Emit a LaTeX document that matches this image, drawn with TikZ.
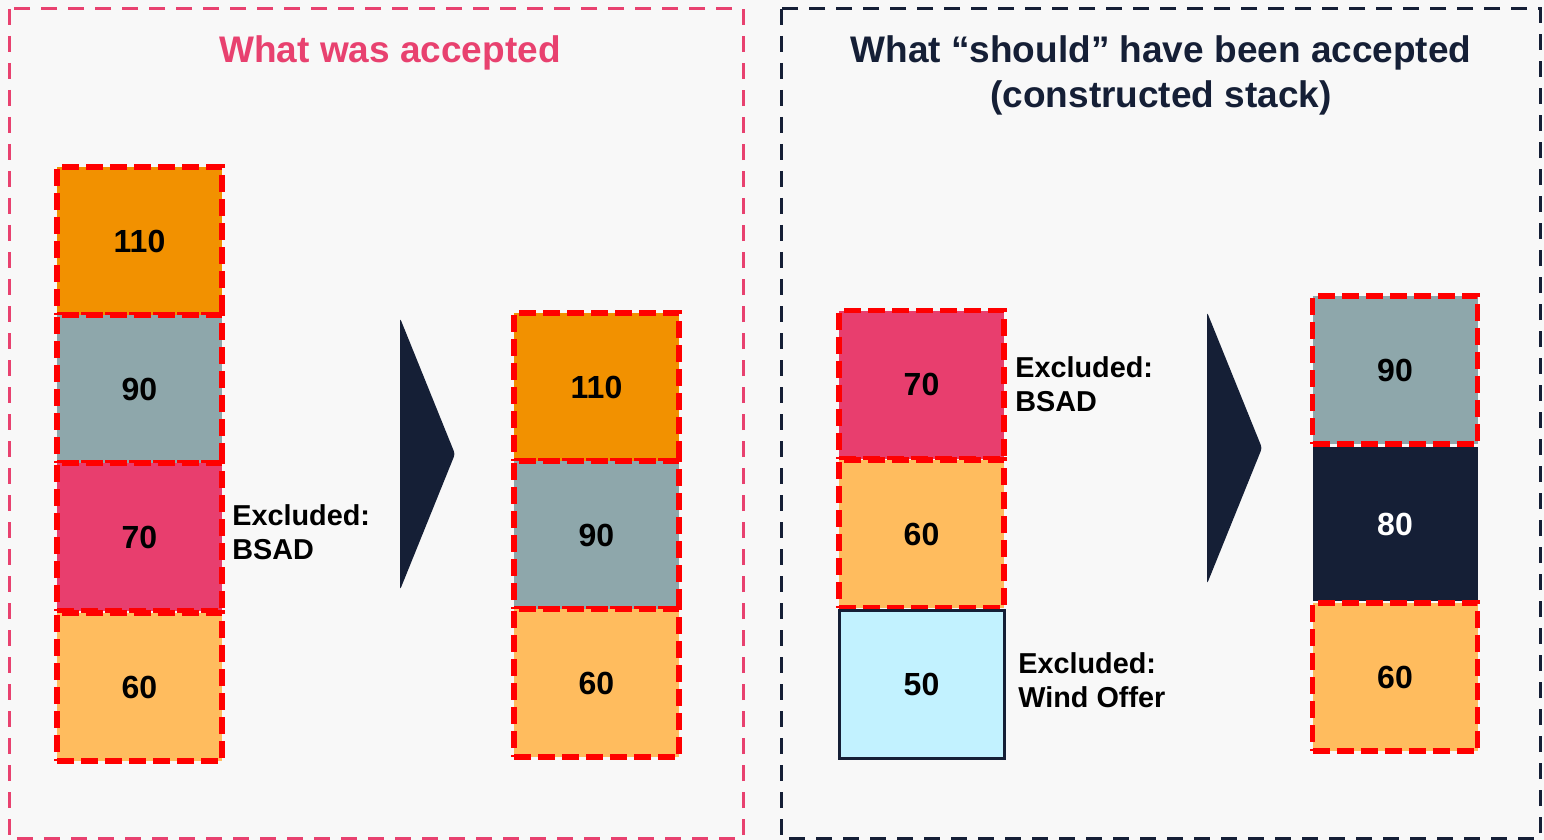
\documentclass[tikz,border=0pt]{standalone}
\usepackage{fontspec}
\setmainfont{Liberation Sans}
\usepackage{xcolor}
\usepackage{tikz}
\usetikzlibrary{positioning}
\definecolor{pagebg}{RGB}{248, 248, 248}
\definecolor{titlepink}{RGB}{232, 65, 111}
\definecolor{navy}{RGB}{21, 31, 54}
\definecolor{offerorange}{RGB}{242, 145, 0}
\definecolor{offergrey}{RGB}{142, 167, 171}
\definecolor{offerpink}{RGB}{232, 62, 110}
\definecolor{offerpeach}{RGB}{255, 188, 94}
\definecolor{offercyan}{RGB}{194, 242, 255}

\begin{document}
\begin{tikzpicture}[
  x=0.5pt, y=-0.5pt,
  offer/.style={rectangle,minimum width=82.5pt,minimum height=74pt,inner sep=0pt,
                font=\fontsize{16}{18}\selectfont\bfseries},
  accepted/.style={offer,draw=red,line width=2.7pt,dash pattern=on 8.5pt off 3.5pt},
  note/.style={anchor=west,align=left,inner sep=0pt,
               font=\fontsize{14.4}{17}\selectfont\bfseries},
  panel/.style={line width=1.5pt,dash pattern=on 8pt off 5.5pt},
  chevron/.style={fill=navy,rounded corners=1.5pt}
]
  \fill[pagebg] (0,0) rectangle (1544,840);

  % What was accepted
  \draw[panel,titlepink] (9,9) rectangle (743,838);
  \node[text=titlepink,font=\fontsize{18.5}{22}\selectfont\bfseries] (tleft) at (390,53) {What was accepted};
  \node[accepted,fill=offerorange] (a110) at (139.5,241) {110};
  \node[accepted,fill=offergrey]   (a90)  at (139.5,389) {90};
  \node[accepted,fill=offerpink]   (a70)  at (139.5,537) {70};
  \node[accepted,fill=offerpeach]  (a60)  at (139.5,687) {60};
  \node[note] (abad) at (232,532) {Excluded:\\BSAD};
  \fill[chevron] (400,318) -- (455,454) -- (400,590) -- cycle;
  \node[accepted,fill=offerorange] (b110) at (596.5,387) {110};
  \node[accepted,fill=offergrey]   (b90)  at (596.5,535) {90};
  \node[accepted,fill=offerpeach]  (b60)  at (596.5,683) {60};

  % What should have been accepted
  \draw[panel,navy] (781,9) rectangle (1540,838);
  \node[text=navy,align=center,font=\fontsize{18.5}{22.5}\selectfont\bfseries] (tright) at (1161,75)
    {What “should” have been accepted\\(constructed stack)};
  \node[accepted,fill=offerpink]  (c70) at (921.5,384.5) {70};
  \node[accepted,fill=offerpeach] (c60) at (921.5,534) {60};
  \node[offer,fill=offercyan,draw=navy,line width=1.5pt] (c50) at (921.5,684) {50};
  \node[note] (cbad)  at (1015,384) {Excluded:\\BSAD};
  \node[note] (cwind) at (1018,680) {Excluded:\\Wind Offer};
  \fill[chevron] (1207,312) -- (1262,448) -- (1207,584) -- cycle;
  \node[accepted,fill=offergrey]  (d90) at (1395,370) {90};
  \node[offer,fill=navy,text=white,minimum height=77pt] (d80) at (1395,524) {80};
  \node[accepted,fill=offerpeach] (d60) at (1395,677) {60};
\end{tikzpicture}
\end{document}
